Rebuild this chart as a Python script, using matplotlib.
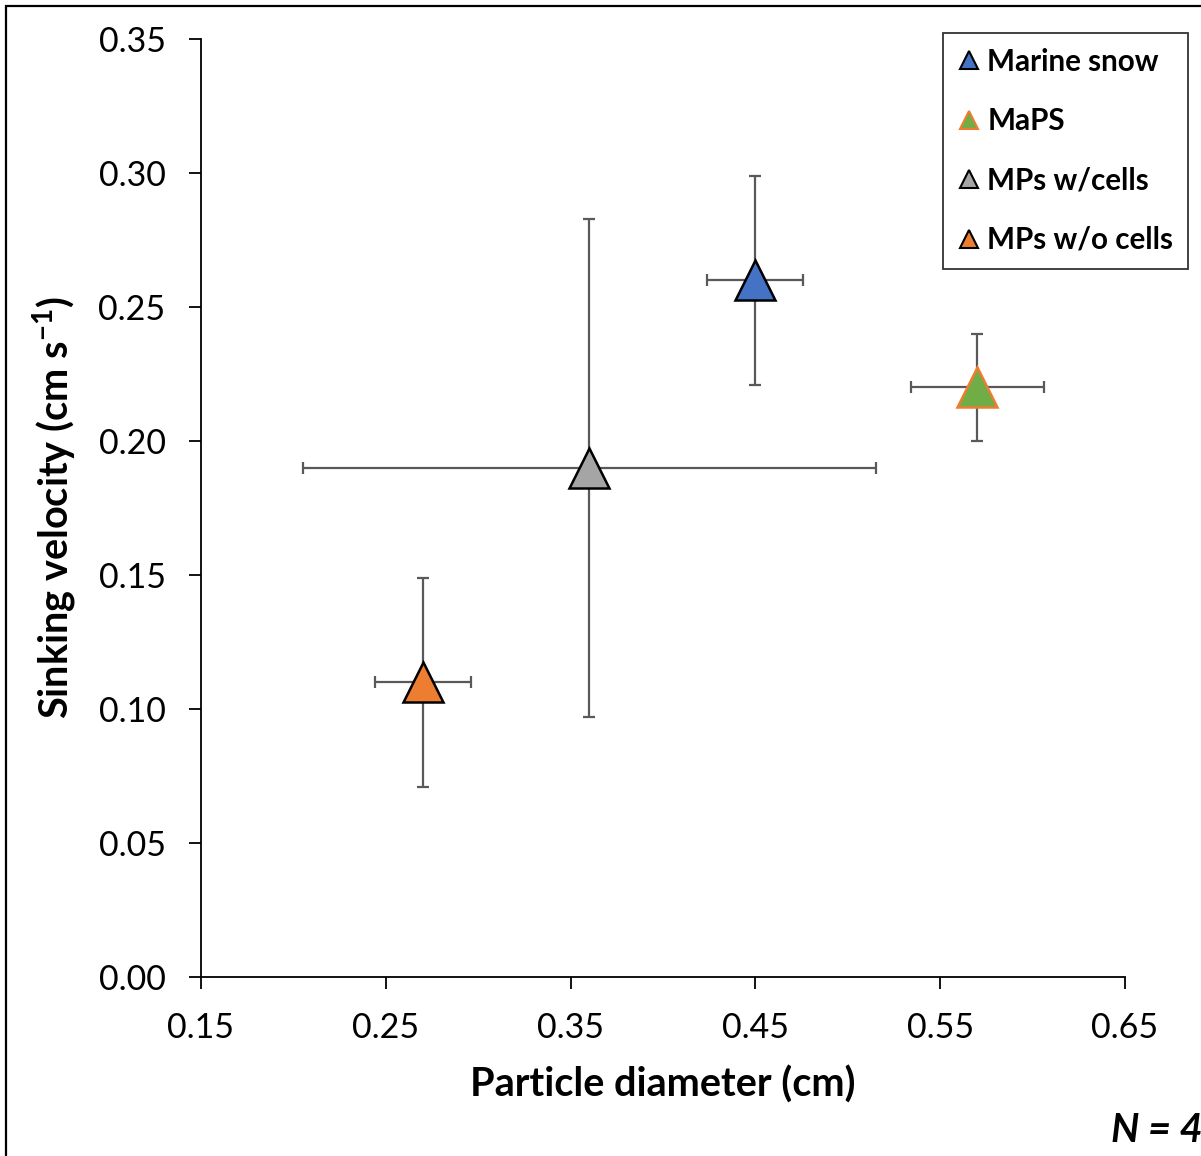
import matplotlib
matplotlib.use("Agg")
import matplotlib.pyplot as plt
from matplotlib.lines import Line2D
from matplotlib.patches import Rectangle

plt.rcParams['font.family'] = ['Lato', 'DejaVu Sans']
plt.rcParams['mathtext.fontset'] = 'custom'
plt.rcParams['mathtext.rm'] = 'Lato'
plt.rcParams['mathtext.bf'] = 'Lato:bold'

labels = ["Marine snow", "MaPS", "MPs w/cells", "MPs w/o cells"]
diameter = [0.45, 0.57, 0.36, 0.27]
diameter_err = [0.026, 0.036, 0.155, 0.026]
velocity = [0.26, 0.22, 0.19, 0.11]
velocity_err = [0.039, 0.020, 0.093, 0.039]
face_colors = ["#4472C4", "#70AD47", "#A5A5A5", "#ED7D31"]
edge_colors = ["#000000", "#ED7D31", "#000000", "#000000"]

xticks = [0.15, 0.25, 0.35, 0.45, 0.55, 0.65]
yticks = [0.00, 0.05, 0.10, 0.15, 0.20, 0.25, 0.30, 0.35]

fig = plt.figure(figsize=(12.01, 11.56), dpi=100)
ax = fig.add_axes([201/1201, 1 - 977/1156, (1125-201)/1201, (977-39)/1156])

for x, xe, y, ye, fc, ec in zip(diameter, diameter_err, velocity, velocity_err, face_colors, edge_colors):
    ax.errorbar(x, y, xerr=xe, yerr=ye, fmt='none', ecolor='#595959',
                elinewidth=1.6, capsize=4.5, capthick=1.6, zorder=2)
    ax.plot(x, y, marker='^', markersize=29, markerfacecolor=fc,
            markeredgecolor=ec, markeredgewidth=1.8, linestyle='none', zorder=3)

ax.set_xlim(0.15, 0.65)
ax.set_ylim(0.0, 0.35)
ax.set_xticks(xticks)
ax.set_xticklabels([f"{v:.2f}" for v in xticks])
ax.set_yticks(yticks)
ax.set_yticklabels([f"{v:.2f}" for v in yticks])
ax.tick_params(axis='both', direction='out', length=8.5, width=1.3, labelsize=24.5)
ax.tick_params(axis='y', pad=17)
ax.tick_params(axis='x', pad=17)
for s in ['top', 'right']:
    ax.spines[s].set_visible(False)
for s in ['left', 'bottom']:
    ax.spines[s].set_linewidth(1.3)

ax.set_xlabel("Particle diameter (cm)", fontsize=28.5, fontweight='bold', labelpad=15)
ax.set_ylabel(r"Sinking velocity (cm s$^{\mathbf{-1}}$)", fontsize=28.5, fontweight='bold', labelpad=14)

handles = [Line2D([0], [0], marker='^', linestyle='none', markersize=13,
                  markerfacecolor=fc, markeredgecolor=ec, markeredgewidth=1.5)
           for fc, ec in zip(face_colors, edge_colors)]
leg = ax.legend(handles, labels, loc='upper right', bbox_to_anchor=(1188/1201, 1 - 33/1156),
                bbox_transform=fig.transFigure, frameon=True, fancybox=False,
                edgecolor='black', prop={'weight': 'bold', 'size': 21.3},
                labelspacing=1.06, handlelength=0.75, handletextpad=0.25,
                borderpad=0.5, borderaxespad=0)
leg.get_frame().set_linewidth(1.3)

fig.text(1203/1201, 1 - 1130/1156, "N = 4", ha='right', va='center',
         fontsize=28.5, fontweight='bold', fontstyle='italic')

fig.patches.append(Rectangle((6/1201, -0.05), 1.1, 1 - 6/1156 + 0.05,
                             transform=fig.transFigure, fill=False,
                             edgecolor='black', linewidth=1.6, figure=fig))

fig.savefig("out.png", dpi=100)
